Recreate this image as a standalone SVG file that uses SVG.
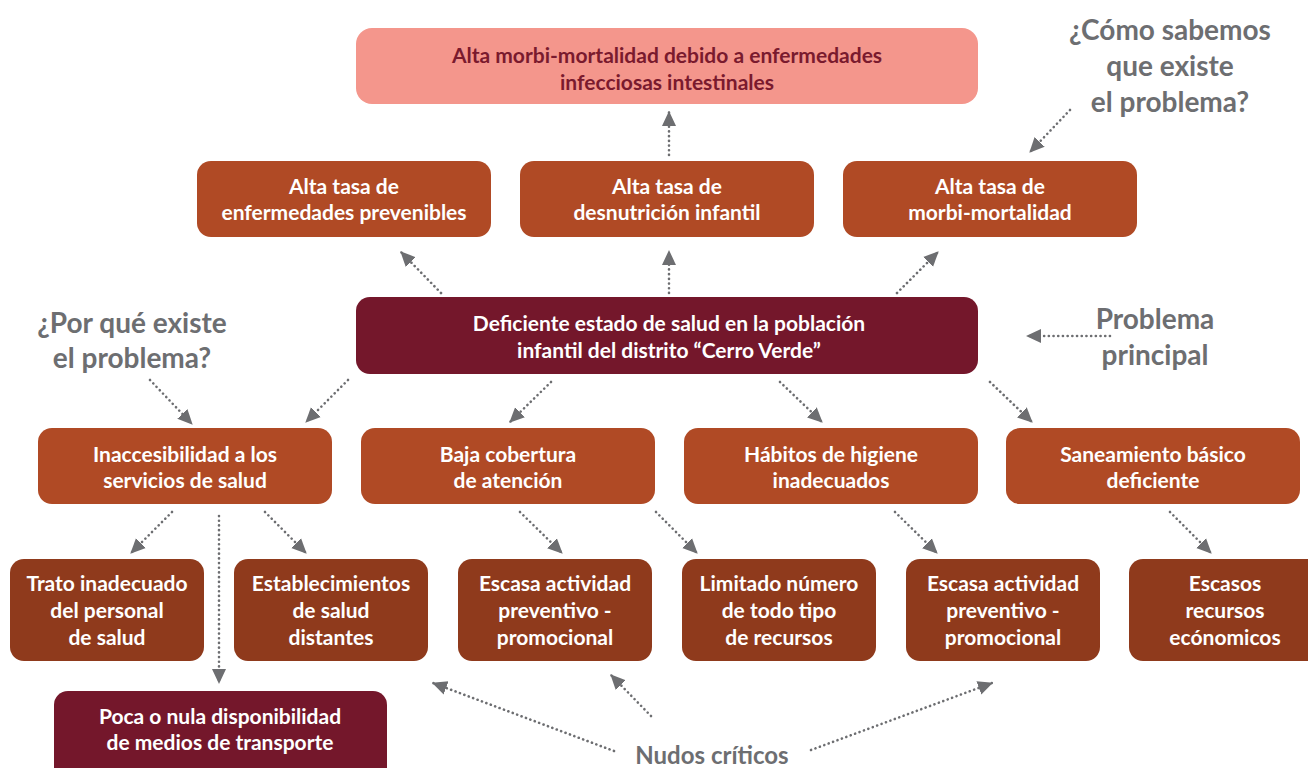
<svg xmlns="http://www.w3.org/2000/svg" width="1308" height="768" viewBox="0 0 1308 768">
<defs>
<style>
.bx{stroke:none}
.pink{fill:#f4968c}
.rust{fill:#b04a25}
.dark{fill:#8f3a1c}
.wine{fill:#74172b}
.t{font-family:Lato,"Open Sans","Liberation Sans",sans-serif;font-weight:700;text-anchor:middle;fill:#ffffff;font-size:21px}
.t4{font-size:21px}
.tp{fill:#7a1a2e}
.g{font-family:Lato,"Open Sans","Liberation Sans",sans-serif;font-weight:700;text-anchor:middle;fill:#6d6e71;font-size:28px}
.gs{font-size:24px}
.c{fill:none;stroke:#6d6e71;stroke-width:2.6;stroke-linecap:round;stroke-dasharray:0.1 4.6}
</style>
<marker id="ah" markerUnits="userSpaceOnUse" markerWidth="16" markerHeight="16" viewBox="0 0 16 16" refX="14" refY="8" orient="auto">
<path d="M0,1 L15,8 L0,15 Z" fill="#6d6e71"/>
</marker>
</defs>
<rect width="1308" height="768" fill="#ffffff"/>

<g id="n-top">
<rect class="bx pink" x="356" y="28" width="622" height="76" rx="16"/>
<text class="t tp" x="667" y="63">Alta morbi-mortalidad debido a enfermedades</text>
<text class="t tp" x="667" y="90">infecciosas intestinales</text>
</g>

<g id="n-e1">
<rect class="bx rust" x="197" y="161" width="294" height="76" rx="14"/>
<text class="t" x="344" y="194">Alta tasa de</text>
<text class="t" x="344" y="220">enfermedades prevenibles</text>
</g>
<g id="n-e2">
<rect class="bx rust" x="520" y="161" width="294" height="76" rx="14"/>
<text class="t" x="667" y="194">Alta tasa de</text>
<text class="t" x="667" y="220">desnutrición infantil</text>
</g>
<g id="n-e3">
<rect class="bx rust" x="843" y="161" width="294" height="76" rx="14"/>
<text class="t" x="990" y="194">Alta tasa de</text>
<text class="t" x="990" y="220">morbi-mortalidad</text>
</g>

<g id="n-main">
<rect class="bx wine" x="356" y="297" width="622" height="77" rx="14"/>
<text class="t" x="669" y="331">Deficiente estado de salud en la población</text>
<text class="t" x="669" y="358">infantil del distrito “Cerro Verde”</text>
</g>

<g id="n-c1">
<rect class="bx rust" x="38" y="428" width="294" height="76" rx="14"/>
<text class="t" x="185" y="462">Inaccesibilidad a los</text>
<text class="t" x="185" y="488">servicios de salud</text>
</g>
<g id="n-c2">
<rect class="bx rust" x="361" y="428" width="294" height="76" rx="14"/>
<text class="t" x="508" y="462">Baja cobertura</text>
<text class="t" x="508" y="488">de atención</text>
</g>
<g id="n-c3">
<rect class="bx rust" x="684" y="428" width="294" height="76" rx="14"/>
<text class="t" x="831" y="462">Hábitos de higiene</text>
<text class="t" x="831" y="488">inadecuados</text>
</g>
<g id="n-c4">
<rect class="bx rust" x="1006" y="428" width="294" height="76" rx="14"/>
<text class="t" x="1153" y="462">Saneamiento básico</text>
<text class="t" x="1153" y="488">deficiente</text>
</g>

<g id="n-s1">
<rect class="bx dark" x="10" y="559" width="194" height="102" rx="14"/>
<text class="t t4" x="107" y="591">Trato inadecuado</text>
<text class="t t4" x="107" y="618">del personal</text>
<text class="t t4" x="107" y="645">de salud</text>
</g>
<g id="n-s2">
<rect class="bx dark" x="234" y="559" width="194" height="102" rx="14"/>
<text class="t t4" x="331" y="591">Establecimientos</text>
<text class="t t4" x="331" y="618">de salud</text>
<text class="t t4" x="331" y="645">distantes</text>
</g>
<g id="n-s3">
<rect class="bx dark" x="458" y="559" width="194" height="102" rx="14"/>
<text class="t t4" x="555" y="591">Escasa actividad</text>
<text class="t t4" x="555" y="618">preventivo -</text>
<text class="t t4" x="555" y="645">promocional</text>
</g>
<g id="n-s4">
<rect class="bx dark" x="682" y="559" width="194" height="102" rx="14"/>
<text class="t t4" x="779" y="591">Limitado número</text>
<text class="t t4" x="779" y="618">de todo tipo</text>
<text class="t t4" x="779" y="645">de recursos</text>
</g>
<g id="n-s5">
<rect class="bx dark" x="906" y="559" width="194" height="102" rx="14"/>
<text class="t t4" x="1003" y="591">Escasa actividad</text>
<text class="t t4" x="1003" y="618">preventivo -</text>
<text class="t t4" x="1003" y="645">promocional</text>
</g>
<g id="n-s6">
<rect class="bx dark" x="1129" y="559" width="194" height="102" rx="14"/>
<text class="t t4" x="1225" y="591">Escasos</text>
<text class="t t4" x="1225" y="618">recursos</text>
<text class="t t4" x="1225" y="645">ecónomicos</text>
</g>

<g id="n-poca">
<rect class="bx wine" x="54" y="691" width="333" height="90" rx="14"/>
<text class="t" x="220" y="724">Poca o nula disponibilidad</text>
<text class="t" x="220" y="750">de medios de transporte</text>
</g>

<g id="labels">
<text class="g" x="1170" y="40">¿Cómo sabemos</text>
<text class="g" x="1170" y="76">que existe</text>
<text class="g" x="1170" y="112">el problema?</text>
<text class="g" x="132" y="333">¿Por qué existe</text>
<text class="g" x="132" y="368">el problema?</text>
<text class="g" x="1155" y="329">Problema</text>
<text class="g" x="1155" y="365">principal</text>
<text class="g gs" x="712" y="764">Nudos críticos</text>
</g>

<g id="connectors">
<line class="c" x1="669" y1="155" x2="669" y2="112" marker-end="url(#ah)"/>
<line class="c" x1="441" y1="293" x2="401" y2="252" marker-end="url(#ah)"/>
<line class="c" x1="669" y1="293" x2="669" y2="251" marker-end="url(#ah)"/>
<line class="c" x1="897" y1="293" x2="938" y2="252" marker-end="url(#ah)"/>
<line class="c" x1="1070" y1="110" x2="1030" y2="152" marker-end="url(#ah)"/>
<line class="c" x1="1110" y1="336" x2="1027" y2="336" marker-end="url(#ah)"/>
<line class="c" x1="150" y1="380" x2="192" y2="424" marker-end="url(#ah)"/>
<line class="c" x1="348" y1="380" x2="306" y2="422" marker-end="url(#ah)"/>
<line class="c" x1="551" y1="382" x2="510" y2="422" marker-end="url(#ah)"/>
<line class="c" x1="780" y1="382" x2="822" y2="422" marker-end="url(#ah)"/>
<line class="c" x1="990" y1="382" x2="1032" y2="422" marker-end="url(#ah)"/>
<line class="c" x1="172" y1="512" x2="131" y2="553" marker-end="url(#ah)"/>
<line class="c" x1="219" y1="516" x2="219" y2="683" marker-end="url(#ah)"/>
<line class="c" x1="265" y1="512" x2="306" y2="553" marker-end="url(#ah)"/>
<line class="c" x1="520" y1="512" x2="562" y2="553" marker-end="url(#ah)"/>
<line class="c" x1="656" y1="512" x2="697" y2="553" marker-end="url(#ah)"/>
<line class="c" x1="895" y1="512" x2="937" y2="553" marker-end="url(#ah)"/>
<line class="c" x1="1170" y1="512" x2="1211" y2="553" marker-end="url(#ah)"/>
<line class="c" x1="614" y1="751" x2="433" y2="683" marker-end="url(#ah)"/>
<line class="c" x1="651" y1="716" x2="611" y2="675" marker-end="url(#ah)"/>
<line class="c" x1="811" y1="750" x2="992" y2="683" marker-end="url(#ah)"/>
</g>
</svg>
